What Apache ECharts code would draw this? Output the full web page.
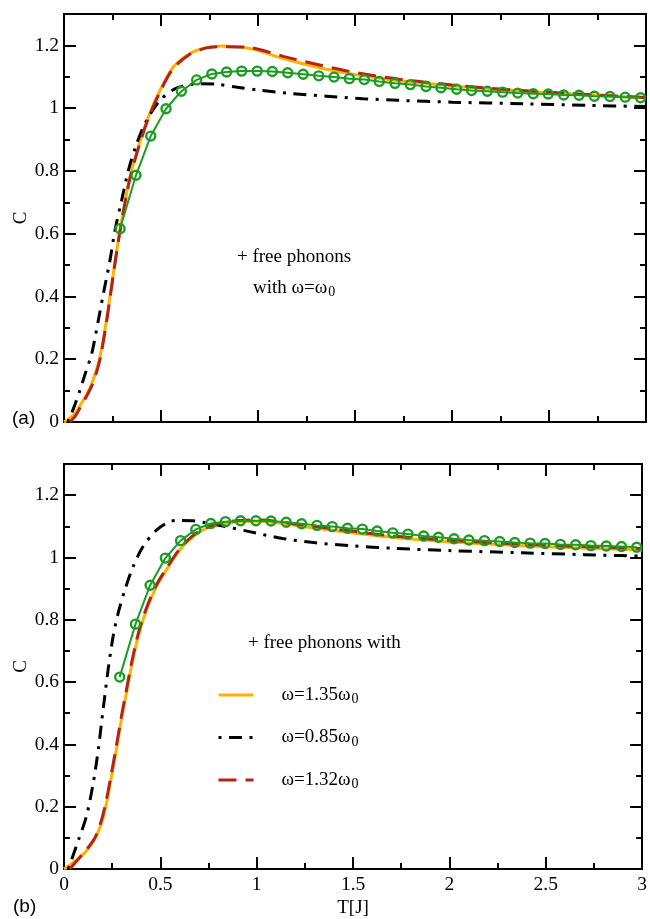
<!DOCTYPE html>
<html>
<head>
<meta charset="utf-8">
<script src="https://cdn.jsdelivr.net/npm/echarts@6/dist/echarts.min.js"></script>
<style>html,body{margin:0;padding:0;background:#fff;}#c{width:650px;height:919px;}</style>
</head>
<body>
<div id="c"></div>
<script>
// ---------- data ----------
// Panel (a)
var aOrangeT = [0, 0.02, 0.057, 0.082, 0.117, 0.143, 0.168, 0.189, 0.22, 0.254, 0.28, 0.306, 0.34, 0.383, 0.435, 0.495, 0.563, 0.649, 0.735, 0.812, 0.958, 1.13, 1.30, 1.473, 1.645, 1.8, 2.0, 2.2, 2.4, 2.6, 2.8, 3.0];
var aOrangeC = [0, 0.008, 0.027, 0.052, 0.088, 0.122, 0.168, 0.218, 0.33, 0.473, 0.579, 0.674, 0.78, 0.876, 0.972, 1.057, 1.131, 1.174, 1.193, 1.198, 1.19, 1.158, 1.131, 1.110, 1.094, 1.083, 1.071, 1.061, 1.053, 1.046, 1.039, 1.033];
var aRedT = [0.03, 0.06, 0.085, 0.117, 0.143, 0.17, 0.19, 0.22, 0.254, 0.28, 0.306, 0.34, 0.383, 0.435, 0.495, 0.563, 0.649, 0.735, 0.812, 0.958, 1.13, 1.30, 1.473, 1.645, 1.8, 2.0, 2.2, 2.4, 2.6, 2.8, 3.0];
var aRedC = [0, 0.02, 0.048, 0.083, 0.115, 0.163, 0.212, 0.322, 0.468, 0.575, 0.67, 0.776, 0.872, 0.968, 1.052, 1.126, 1.172, 1.192, 1.196, 1.193, 1.165, 1.14, 1.117, 1.099, 1.087, 1.074, 1.063, 1.055, 1.047, 1.040, 1.034];
var aBlackT = [0.02, 0.05, 0.082, 0.11, 0.143, 0.177, 0.203, 0.237, 0.263, 0.297, 0.332, 0.375, 0.426, 0.495, 0.572, 0.632, 0.70, 0.786, 0.90, 1.01, 1.18, 1.353, 1.542, 1.722, 2.0, 2.366, 2.7, 3.0];
var aBlackC = [0, 0.045, 0.101, 0.155, 0.218, 0.324, 0.409, 0.515, 0.611, 0.706, 0.802, 0.887, 0.961, 1.025, 1.062, 1.073, 1.078, 1.076, 1.066, 1.057, 1.046, 1.038, 1.030, 1.025, 1.019, 1.014, 1.009, 1.005];

// Panel (b)
var bOrangeT = [0, 0.048, 0.109, 0.16, 0.195, 0.221, 0.247, 0.272, 0.298, 0.324, 0.35, 0.385, 0.428, 0.48, 0.531, 0.6, 0.669, 0.738, 0.807, 0.91, 1.014, 1.221, 1.393, 1.566, 1.721, 2.0, 2.3, 2.6, 3.0];
var bOrangeC = [0, 0.021, 0.053, 0.096, 0.149, 0.213, 0.299, 0.384, 0.48, 0.565, 0.651, 0.747, 0.832, 0.907, 0.96, 1.024, 1.067, 1.093, 1.106, 1.115, 1.116, 1.101, 1.087, 1.074, 1.063, 1.050, 1.040, 1.032, 1.024];
var bRedT = [0.03, 0.06, 0.1, 0.16, 0.195, 0.221, 0.247, 0.272, 0.298, 0.324, 0.35, 0.385, 0.428, 0.48, 0.531, 0.6, 0.669, 0.738, 0.807, 0.91, 1.014, 1.221, 1.393, 1.566, 1.721, 2.0, 2.3, 2.6, 3.0];
var bRedC = [0, 0.022, 0.05, 0.1, 0.158, 0.225, 0.31, 0.396, 0.49, 0.575, 0.66, 0.755, 0.838, 0.912, 0.964, 1.027, 1.07, 1.096, 1.109, 1.119, 1.12, 1.106, 1.092, 1.079, 1.068, 1.055, 1.045, 1.037, 1.029];
var bBlackT = [0.022, 0.074, 0.117, 0.152, 0.178, 0.203, 0.229, 0.255, 0.281, 0.316, 0.359, 0.41, 0.48, 0.548, 0.6, 0.669, 0.721, 0.824, 0.962, 1.134, 1.307, 1.48, 1.721, 2.0, 2.376, 2.7, 2.893, 3.0];
var bBlackC = [0, 0.091, 0.171, 0.277, 0.384, 0.512, 0.64, 0.747, 0.821, 0.896, 0.971, 1.035, 1.088, 1.115, 1.119, 1.118, 1.113, 1.101, 1.083, 1.061, 1.047, 1.038, 1.029, 1.022, 1.015, 1.009, 1.006, 1.004];

// Green circles (same data in both panels)
var greenT = [0.289, 0.371, 0.447, 0.526, 0.605, 0.684, 0.762, 0.838, 0.916, 0.996, 1.074, 1.153, 1.233, 1.313, 1.392, 1.471, 1.548, 1.625, 1.706, 1.785, 1.866, 1.943, 2.024, 2.101, 2.182, 2.261, 2.339, 2.419, 2.496, 2.576, 2.655, 2.734, 2.814, 2.893, 2.972];
var greenC = [0.616, 0.786, 0.911, 0.998, 1.054, 1.090, 1.109, 1.115, 1.118, 1.118, 1.117, 1.113, 1.108, 1.103, 1.099, 1.094, 1.091, 1.085, 1.079, 1.075, 1.069, 1.065, 1.060, 1.056, 1.054, 1.051, 1.048, 1.046, 1.045, 1.042, 1.041, 1.038, 1.037, 1.035, 1.033];

var xTicks = [0, 0.5, 1, 1.5, 2, 2.5, 3];
var yTicks = [0, 0.2, 0.4, 0.6, 0.8, 1, 1.2];
var legendNames = ['ω=1.35ω0', 'ω=0.85ω0', 'ω=1.32ω0'];

// ---------- chart ----------
function zip(a, b) { return a.map(function (v, i) { return [v, b[i]]; }); }

var SERIF = 'Liberation Serif';
var ORANGE = '#ffb000', RED = '#b3231b', GREEN = '#1c9c22', BLACK = '#000';
var dashDot = [3, 7.5, 13, 7.5];
var dashed = [18, 9];

var richSub = {
  a: { fontFamily: SERIF, fontSize: 19, color: '#000', lineHeight: 22 },
  s: { fontFamily: SERIF, fontSize: 14, color: '#000', lineHeight: 14, padding: [9, 0, 0, 1] }
};

function xAx(gi, pos, labels, name) {
  return {
    type: 'value', gridIndex: gi, position: pos, min: xTicks[0], max: xTicks[xTicks.length - 1],
    interval: xTicks[1] - xTicks[0],
    name: name || '', nameLocation: 'middle', nameGap: 30,
    nameTextStyle: { fontFamily: SERIF, fontSize: 19, color: '#000' },
    axisLine: { show: true, onZero: false, lineStyle: { color: '#000', width: 2 } },
    axisTick: { show: true, inside: true, length: 12, lineStyle: { color: '#000', width: 2 } },
    minorTick: { show: true, splitNumber: 2, length: 6, lineStyle: { color: '#000', width: 2 } },
    axisLabel: { show: labels, margin: 6, fontFamily: SERIF, fontSize: 19.5, color: '#000' },
    splitLine: { show: false }, minorSplitLine: { show: false }
  };
}
function yAx(gi, pos, labels, name) {
  return {
    type: 'value', gridIndex: gi, position: pos, min: yTicks[0], max: 1.3,
    interval: yTicks[1] - yTicks[0],
    name: name || '', nameLocation: 'middle', nameGap: 33, nameRotate: 90, nameMoveOverlap: false,
    nameTextStyle: { fontFamily: SERIF, fontSize: 19, color: '#000' },
    axisLine: { show: true, onZero: false, lineStyle: { color: '#000', width: 2 } },
    axisTick: { show: true, inside: true, length: 12, lineStyle: { color: '#000', width: 2 } },
    minorTick: { show: true, splitNumber: 2, length: 6, lineStyle: { color: '#000', width: 2 } },
    axisLabel: { show: labels, margin: 5, showMaxLabel: false, fontFamily: SERIF, fontSize: 19.5, color: '#000' },
    splitLine: { show: false }, minorSplitLine: { show: false }
  };
}

function curve(name, xi, yi, T, C, color, type, z) {
  return {
    name: name, type: 'line', xAxisIndex: xi, yAxisIndex: yi, data: zip(T, C),
    showSymbol: false, symbol: 'none', smooth: 0.3, clip: true, z: z,
    lineStyle: { color: color, width: 3, type: type }, itemStyle: { color: color }
  };
}
function greenSeries(xi, yi) {
  return {
    name: 'QMC' + xi, type: 'line', xAxisIndex: xi, yAxisIndex: yi, data: zip(greenT, greenC),
    symbol: 'circle', symbolSize: 9, showSymbol: true, z: 10,
    lineStyle: { color: GREEN, width: 2 },
    itemStyle: { color: 'rgba(0,0,0,0)', borderColor: GREEN, borderWidth: 2.4 }
  };
}

var option = {
  animation: false,
  backgroundColor: '#fff',
  grid: [
    { left: 64, top: 14, width: 582, height: 408 },
    { left: 64, top: 464, width: 581, height: 406 }
  ],
  xAxis: [
    xAx(0, 'bottom', false), xAx(0, 'top', false),
    xAx(1, 'bottom', true, 'T[J]'), xAx(1, 'top', false)
  ],
  yAxis: [
    yAx(0, 'left', true, 'C'), yAx(0, 'right', false),
    yAx(1, 'left', true, 'C'), yAx(1, 'right', false)
  ],
  legend: {
    orient: 'vertical', left: 217, top: 683.5, padding: 0,
    itemWidth: 35, itemHeight: 14, itemGap: 19.5, selectedMode: false,
    data: legendNames,
    itemStyle: { opacity: 0 },
    lineStyle: { width: 'inherit' },
    formatter: function (n) { return '{a|' + n.slice(0, -1) + '}{s|' + n.slice(-1) + '}'; },
    textStyle: { rich: { a: { fontFamily: SERIF, fontSize: 19, color: '#000', lineHeight: 22, padding: [0, 0, 0, 23] }, s: richSub.s } }
  },
  graphic: [
    { type: 'text', x: 237, y: 257, style: { text: '+ free phonons', font: '19px "Liberation Serif"', fill: '#000', verticalAlign: 'middle' } },
    { type: 'text', x: 253, y: 288, style: { text: '{a|with ω=ω}{s|0}', rich: richSub, verticalAlign: 'middle' } },
    { type: 'text', x: 248, y: 643, style: { text: '+ free phonons with', font: '19px "Liberation Serif"', fill: '#000', verticalAlign: 'middle' } },
    { type: 'text', x: 12, y: 419, style: { text: '(a)', font: '19px "Liberation Sans"', fill: '#000', verticalAlign: 'middle' } },
    { type: 'text', x: 13, y: 907, style: { text: '(b)', font: '19px "Liberation Sans"', fill: '#000', verticalAlign: 'middle' } }
  ],
  series: [
    curve('a1', 0, 0, aOrangeT, aOrangeC, ORANGE, 'solid', 2),
    curve('a2', 0, 0, aBlackT, aBlackC, BLACK, dashDot, 3),
    curve('a3', 0, 0, aRedT, aRedC, RED, dashed, 4),
    greenSeries(0, 0),
    curve(legendNames[0], 2, 2, bOrangeT, bOrangeC, ORANGE, 'solid', 2),
    curve(legendNames[1], 2, 2, bBlackT, bBlackC, BLACK, dashDot, 3),
    curve(legendNames[2], 2, 2, bRedT, bRedC, RED, dashed, 4),
    greenSeries(2, 2)
  ]
};
var chart = echarts.init(document.getElementById('c'), null, { renderer: 'canvas' });
chart.setOption(option);
</script>
</body>
</html>
